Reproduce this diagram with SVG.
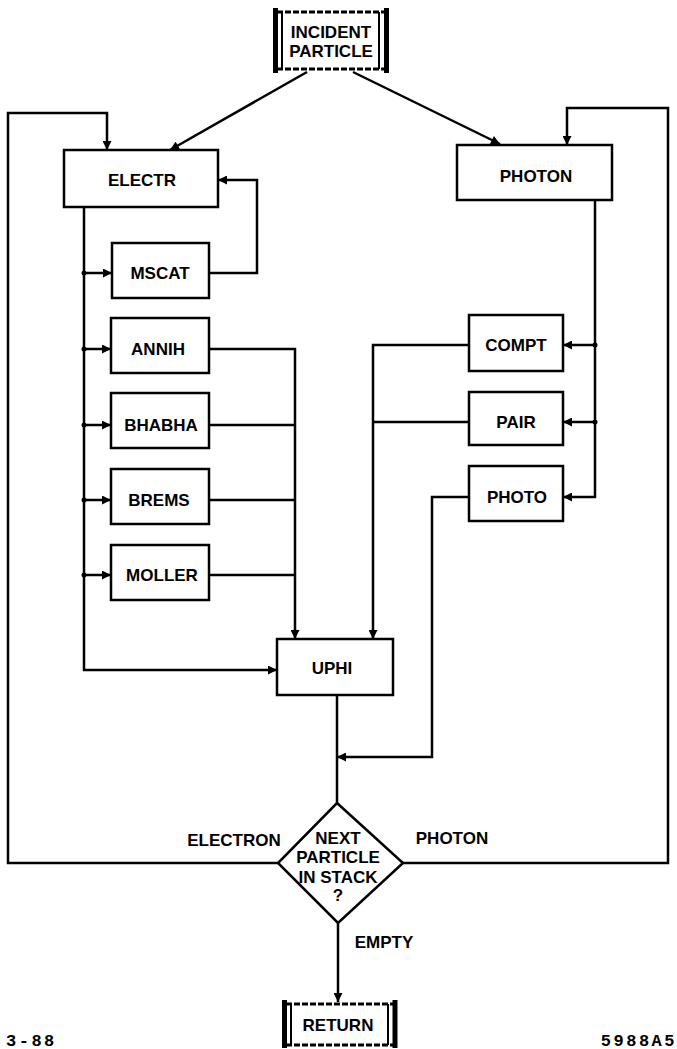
<svg xmlns="http://www.w3.org/2000/svg" width="677" height="1049" viewBox="0 0 677 1049">
<style>
.box{fill:#fff;stroke:#000;stroke-width:2.5}
.t{font-family:"Liberation Sans",Arial,sans-serif;font-weight:bold;font-size:17px;fill:#000;text-anchor:middle}
.ln{fill:none;stroke:#000;stroke-width:2.5;stroke-linejoin:miter}
.dash{fill:none;stroke:#000;stroke-width:3;stroke-dasharray:6 2}
.bar{stroke:#000;stroke-width:5}
.thin{stroke:#000;stroke-width:2}
.foot{font-family:"Liberation Mono","DejaVu Sans Mono",monospace;font-weight:bold;font-size:17px;letter-spacing:2.5px;fill:#000}
</style>
<defs>
<marker id="ah" viewBox="0 0 10 10" refX="10" refY="5" markerWidth="4" markerHeight="3.6" orient="auto" markerUnits="strokeWidth">
<path d="M0,0 L10,5 L0,10 z" fill="#000"/>
</marker>
</defs>
<rect width="677" height="1049" fill="#fff"/>

<g id="connectors">
<path class="ln" d="M307,72 L170,150" marker-end="url(#ah)"/>
<path class="ln" d="M353,72 L500,144" marker-end="url(#ah)"/>
<path class="ln" d="M278,863 H8 V113 H107 V150" marker-end="url(#ah)"/>
<path class="ln" d="M403,863 H668 V108 H567 V145" marker-end="url(#ah)"/>
<path class="ln" d="M84,207 V670 H277" marker-end="url(#ah)"/>
<path class="ln" d="M84,273 H112" marker-end="url(#ah)"/>
<path class="ln" d="M84,349 H111" marker-end="url(#ah)"/>
<path class="ln" d="M84,425 H111" marker-end="url(#ah)"/>
<path class="ln" d="M84,500 H111" marker-end="url(#ah)"/>
<path class="ln" d="M84,575 H111" marker-end="url(#ah)"/>
<circle cx="84" cy="273" r="2.5"/>
<circle cx="84" cy="349" r="2.5"/>
<circle cx="84" cy="425" r="2.5"/>
<circle cx="84" cy="500" r="2.5"/>
<circle cx="84" cy="575" r="2.5"/>
<path class="ln" d="M209,273 H257 V180 H218" marker-end="url(#ah)"/>
<path class="ln" d="M209,349 H295 V639" marker-end="url(#ah)"/>
<path class="ln" d="M209,425 H295"/>
<path class="ln" d="M209,500 H295"/>
<path class="ln" d="M209,575 H295"/>
<path class="ln" d="M595,200 V497 H563" marker-end="url(#ah)"/>
<path class="ln" d="M595,345 H563" marker-end="url(#ah)"/>
<path class="ln" d="M595,422 H563" marker-end="url(#ah)"/>
<circle cx="595" cy="345" r="2.5"/>
<circle cx="595" cy="422" r="2.5"/>
<path class="ln" d="M469,345 H373 V639" marker-end="url(#ah)"/>
<path class="ln" d="M469,422 H373"/>
<path class="ln" d="M469,497 H432 V757 H337" marker-end="url(#ah)"/>
<path class="ln" d="M337,695 V803"/>
<path class="ln" d="M338,923 V1002" marker-end="url(#ah)"/>
</g>

<g id="incident">
<path class="dash" d="M277,12 H386"/>
<path class="dash" d="M277,69 H386"/>
<line class="bar" x1="275.5" y1="8" x2="275.5" y2="73"/>
<line class="thin" x1="282" y1="12" x2="282" y2="69"/>
<line class="bar" x1="386.5" y1="8" x2="386.5" y2="73"/>
<line class="thin" x1="379" y1="12" x2="379" y2="69"/>
<text class="t" x="331" y="38">INCIDENT</text>
<text class="t" x="331" y="57">PARTICLE</text>
</g>

<g id="electr">
<rect class="box" x="64" y="150" width="154" height="57"/>
<text class="t" x="142" y="186">ELECTR</text>
</g>
<g id="photon">
<rect class="box" x="457" y="145" width="155" height="55"/>
<text class="t" x="536" y="182">PHOTON</text>
</g>
<g id="mscat">
<rect class="box" x="112" y="243" width="97" height="55"/>
<text class="t" x="160" y="279">MSCAT</text>
</g>
<g id="annih">
<rect class="box" x="111" y="318" width="98" height="55"/>
<text class="t" x="158" y="355">ANNIH</text>
</g>
<g id="bhabha">
<rect class="box" x="111" y="393" width="98" height="55"/>
<text class="t" x="161" y="431">BHABHA</text>
</g>
<g id="brems">
<rect class="box" x="111" y="469" width="98" height="55"/>
<text class="t" x="159" y="506">BREMS</text>
</g>
<g id="moller">
<rect class="box" x="111" y="545" width="98" height="55"/>
<text class="t" x="162" y="581">MOLLER</text>
</g>
<g id="compt">
<rect class="box" x="469" y="315" width="94" height="56"/>
<text class="t" x="516" y="351">COMPT</text>
</g>
<g id="pair">
<rect class="box" x="469" y="392" width="94" height="53"/>
<text class="t" x="516" y="428">PAIR</text>
</g>
<g id="photo">
<rect class="box" x="469" y="466" width="94" height="55"/>
<text class="t" x="517" y="503">PHOTO</text>
</g>
<g id="uphi">
<rect class="box" x="277" y="639" width="116" height="56"/>
<text class="t" x="332" y="674">UPHI</text>
</g>

<g id="decision">
<path class="box" d="M337,803 L403,863 L338,923 L278,863 Z"/>
<text class="t" x="338" y="844">NEXT</text>
<text class="t" x="338" y="863">PARTICLE</text>
<text class="t" x="338" y="883">IN STACK</text>
<text class="t" x="338" y="901">?</text>
</g>

<g id="labels">
<text class="t" x="234" y="846">ELECTRON</text>
<text class="t" x="452" y="844">PHOTON</text>
<text class="t" x="384" y="948">EMPTY</text>
</g>

<g id="return">
<path class="dash" d="M286,1004 H394"/>
<path class="dash" d="M286,1045 H394"/>
<line class="bar" x1="284.5" y1="1000" x2="284.5" y2="1048"/>
<line class="thin" x1="291" y1="1004" x2="291" y2="1045"/>
<line class="bar" x1="395" y1="1000" x2="395" y2="1048"/>
<line class="thin" x1="388" y1="1004" x2="388" y2="1045"/>
<text class="t" x="338" y="1031">RETURN</text>
</g>

<g id="footer">
<text class="foot" x="6" y="1046">3-88</text>
<text class="foot" x="677" y="1046" text-anchor="end">5988A5</text>
</g>
</svg>
